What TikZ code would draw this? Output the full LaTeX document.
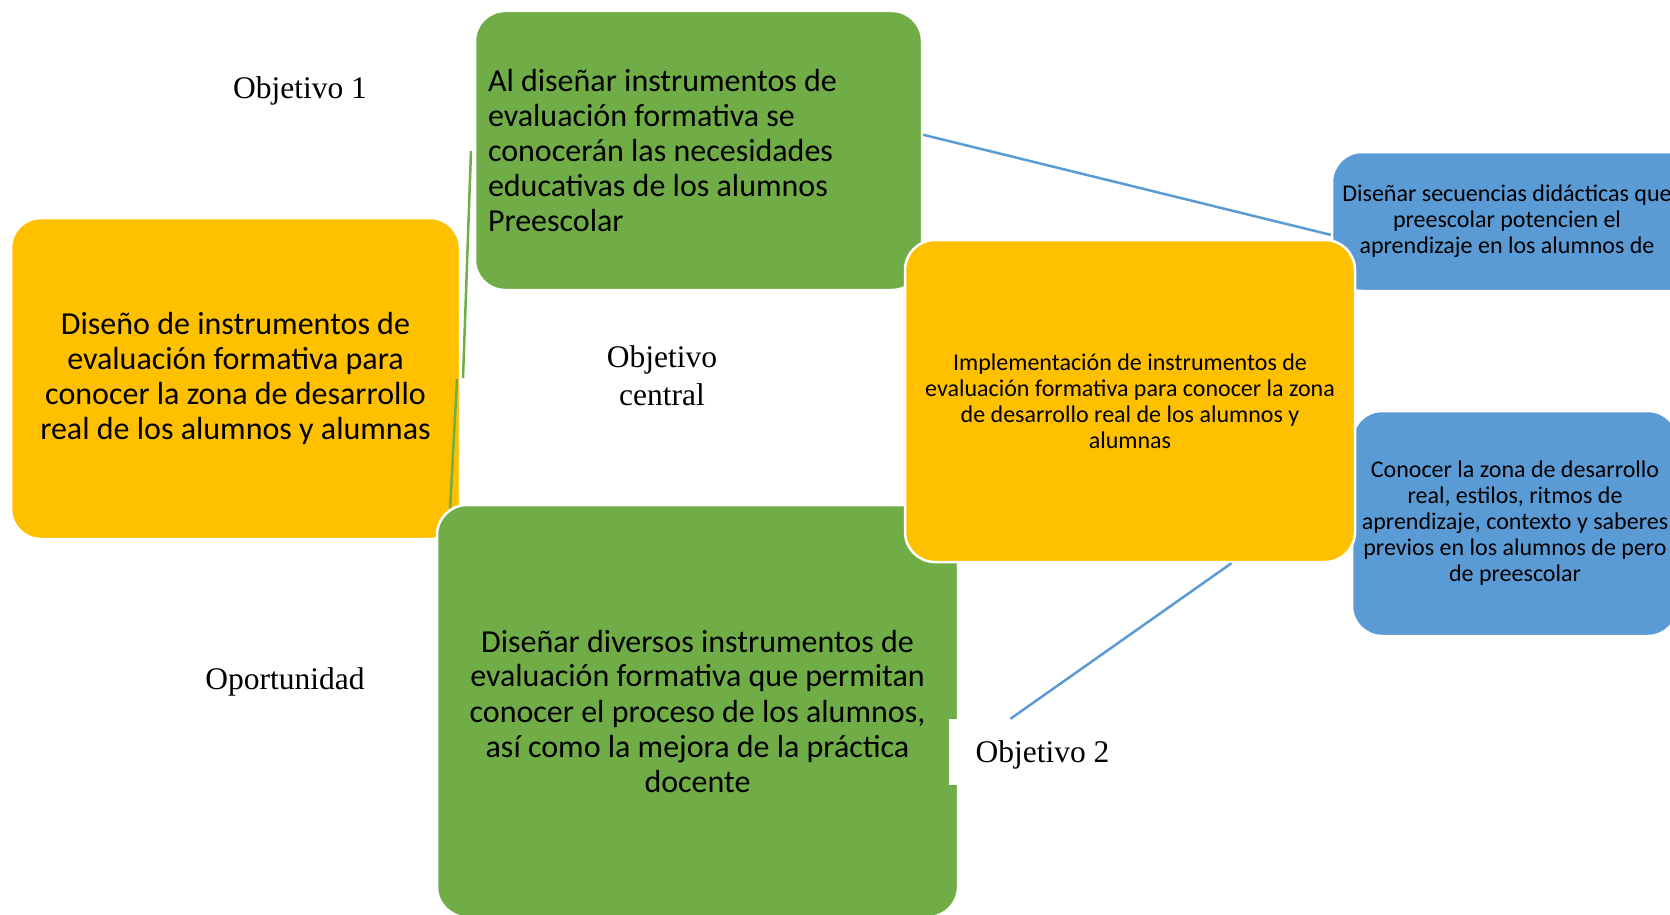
\documentclass[tikz,border=0pt]{standalone}
\usepackage{fontspec}
\setmainfont{Carlito}
\newfontfamily\labelfont{Liberation Serif}
\definecolor{boxgreen}{HTML}{70AD47}
\definecolor{boxyellow}{HTML}{FFC000}
\definecolor{boxblue}{HTML}{5B9BD5}
\tikzset{
  x=1pt, y=-1pt, % page units, y going down
  box/.style={rectangle, rounded corners=30pt, draw=white, line width=2.5pt, inner sep=0pt, align=center},
  greenbox/.style={box, fill=boxgreen},
  yellowbox/.style={box, fill=boxyellow},
  bluebox/.style={box, fill=boxblue},
  bigtext/.style={font=\fontsize{32}{35}\selectfont}, % text of the large boxes
  smalltext/.style={font=\fontsize{24}{26}\selectfont, align=center}, % text of the small boxes
  tag/.style={font=\labelfont\fontsize{31.5}{38}\selectfont, align=center},
  greenline/.style={draw=boxgreen, line width=2.5pt},
  blueline/.style={draw=boxblue, line width=2.5pt}
}

\begin{document}
\begin{tikzpicture}

    \clip (0,0) rectangle (1670,915);

    \node[yellowbox, bigtext, minimum width=449pt, minimum height=321pt] (design) at (235.5,378.5)
      {Diseño de instrumentos de\\ evaluación formativa para\\ conocer la zona de desarrollo\\ real de los alumnos y alumnas};
    \node[greenbox, bigtext, align=flush left, text width=421pt, inner xsep=13pt, minimum height=279pt] (goal_one) at (698.5,150.5)
      {Al diseñar instrumentos de\\ evaluación formativa se\\ conocerán las necesidades\\ educativas de los alumnos\\ Preescolar};

    % blue boxes run off the right side, their text sits left of centre
    \node[bluebox, minimum width=380pt, minimum height=139pt] (sequences) at (1522,221.5) {};
    \node[smalltext] (sequences_text) at (1507,221.5)
      {Diseñar secuencias didácticas que\\ preescolar potencien el\\ aprendizaje en los alumnos de};
    \node[bluebox, minimum width=326pt, minimum height=225pt] (know_zone) at (1515,523.5) {};
    \node[smalltext] (know_zone_text) at (1515,523.5)
      {Conocer la zona de desarrollo\\ real, estilos, ritmos de\\ aprendizaje, contexto y saberes\\ previos en los alumnos de pero\\ de preescolar};

    % green strokes on the left
    \coordinate (obj1_top) at (471,151);
    \coordinate (obj1_end) at (463,378);
    \coordinate (opp_top) at (457,379);
    \coordinate (opp_end) at (450,511);
    \draw[greenline] (obj1_top) -- (obj1_end);
    \draw[greenline] (opp_top) -- (opp_end);

    \node[greenbox, bigtext, minimum width=521pt, minimum height=412pt] (opportunity) at (697.5,711)
      {Diseñar diversos instrumentos de\\ evaluación formativa que permitan\\ conocer el proceso de los alumnos,\\ así como la mejora de la práctica\\ docente};
    \node[yellowbox, smalltext, minimum width=450pt, minimum height=322pt] (implement) at (1130,401)
      {Implementación de instrumentos de\\ evaluación formativa para conocer la zona\\ de desarrollo real de los alumnos y\\ alumnas};

    \node[tag, fill=white, minimum width=187pt, minimum height=66pt, inner sep=0pt,
          text height=21pt, text depth=0pt] (goal_two) at (1042.5,752) {Objetivo 2};

    \draw[blueline] (goal_one.4) -- (sequences.184);
    \draw[blueline] (implement.-58) -- (goal_two.134);

    \node[tag, anchor=base] (goal_one_tag) at (300,99) {Objetivo 1};
    \node[tag] (central_tag) at (662,376) {Objetivo\\ central};
    \node[tag, anchor=base] (opp_tag) at (285,689) {Oportunidad};

\end{tikzpicture}
\end{document}
